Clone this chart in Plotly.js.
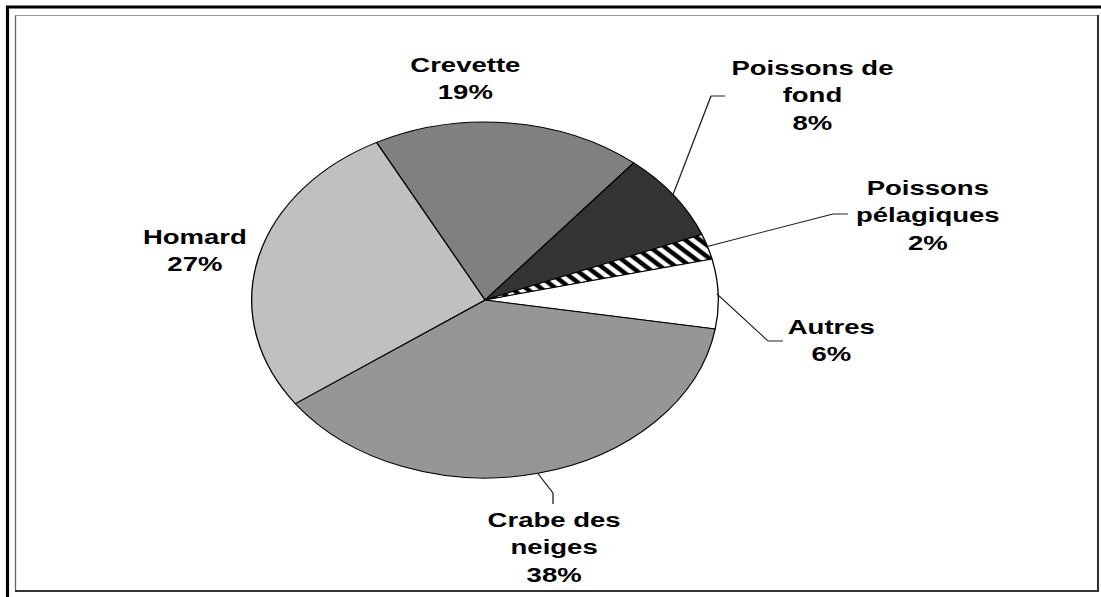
<!DOCTYPE html>
<html><head><meta charset="utf-8">
<script src="https://cdn.plot.ly/plotly-3.0.1.min.js"></script>
<style>
html,body{margin:0;padding:0;background:#fff;overflow:hidden;width:1101px;height:597px;}
#chart{width:840px;height:597px;transform:scaleX(1.310714);transform-origin:0 0;}
</style></head><body><div id="chart"></div>
<script>
// ---- data ----
const categories = ['Crevette', 'Poissons de fond', 'Poissons pélagiques', 'Autres', 'Crabe des neiges', 'Homard'];
const labelTexts = ['Crevette', 'Poissons de<br>fond', 'Poissons<br>pélagiques', 'Autres', 'Crabe des<br>neiges', 'Homard'];
const values = [18.7, 8.0, 2.3, 6.3, 37.5, 27.2];
const sliceColors = ['#808080', '#333333', '#ffffff', '#ffffff', '#969696', '#c0c0c0'];
const slicePatterns = ['', '', '\\', '', '', ''];

// ---- layout helpers (reference pixel space 1101x597) ----
const W = 1101, H = 597;
const px = X => X / W;
const py = Y => 1 - Y / H;
const CX = 485, CY = 300, RA = 232, RB = 178; // pie centre / radii in reference pixels
const ROT = -27.7;

// label centres and leader elbows (reference pixels)
const labelPos = [[465, 78], [812, 95], [928, 215], [831, 340], [554, 547], [195, 250]];
const leaders = [null, [[711, 96], [725, 96]], [[833, 214], [848, 214]], [[768, 341], [783, 341]], [[553, 493], [553, 504]], null];

const total = values.reduce((a, b) => a + b, 0);
const shapes = [];
const annotations = [];
let cum = 0;
values.forEach((v, i) => {
  const mid = (ROT + 360 * (cum + v / 2) / total) * Math.PI / 180;
  cum += v;
  const pct = Math.round(100 * v / total) + '%';
  annotations.push({
    xref: 'paper', yref: 'paper', x: px(labelPos[i][0]), y: py(labelPos[i][1]),
    xanchor: 'center', yanchor: 'middle', showarrow: false, align: 'center',
    text: '<b>' + labelTexts[i] + '<br>' + pct + '</b>',
    font: {family: 'Liberation Sans, Arial, sans-serif', size: 21, color: '#000'}
  });
  if (leaders[i]) {
    const sx = CX + RA * Math.sin(mid), sy = CY - RB * Math.cos(mid);
    const pts = [[sx, sy]].concat(leaders[i]);
    for (let k = 0; k < pts.length - 1; k++) {
      shapes.push({type: 'line', xref: 'paper', yref: 'paper',
        x0: px(pts[k][0]), y0: py(pts[k][1]), x1: px(pts[k + 1][0]), y1: py(pts[k + 1][1]),
        line: {color: '#222', width: 1}});
    }
  }
});

// frame
const frame = (x0, y0, x1, y1, color, width) => shapes.push({type: 'line', xref: 'paper', yref: 'paper',
  x0: px(x0), y0: py(y0), x1: px(x1), y1: py(y1), line: {color: color, width: width}});
frame(7.5, 6, 7.5, 597, '#000', 2.4);
frame(6, 7, 1101, 7, '#000', 3);
frame(15.5, 15, 15.5, 591, '#666', 1);
frame(15, 15.5, 1098, 15.5, '#999', 1);
frame(1098, 15, 1098, 592, '#333', 1.6);
frame(15, 591, 1099, 591, '#333', 2);

const rUnscaled = RB; // circle radius in unscaled px
const cxU = CX / (W / 840);
const trace = {
  type: 'pie',
  labels: categories,
  values: values,
  sort: false,
  direction: 'clockwise',
  rotation: ROT,
  textinfo: 'none',
  hoverinfo: 'label+percent',
  marker: {
    colors: sliceColors,
    line: {color: '#000', width: 1},
    pattern: {shape: slicePatterns, fgcolor: '#000', bgcolor: '#fff', size: 8, solidity: 0.5}
  },
  domain: {x: [(cxU - rUnscaled) / 840, (cxU + rUnscaled) / 840], y: [py(CY + RB), py(CY - RB)]}
};

Plotly.newPlot('chart', [trace], {
  width: 840, height: 597,
  margin: {l: 0, r: 0, t: 0, b: 0},
  paper_bgcolor: '#fff', plot_bgcolor: '#fff',
  showlegend: false,
  shapes: shapes,
  annotations: annotations
}, {displayModeBar: false, staticPlot: true});
</script></body></html>
